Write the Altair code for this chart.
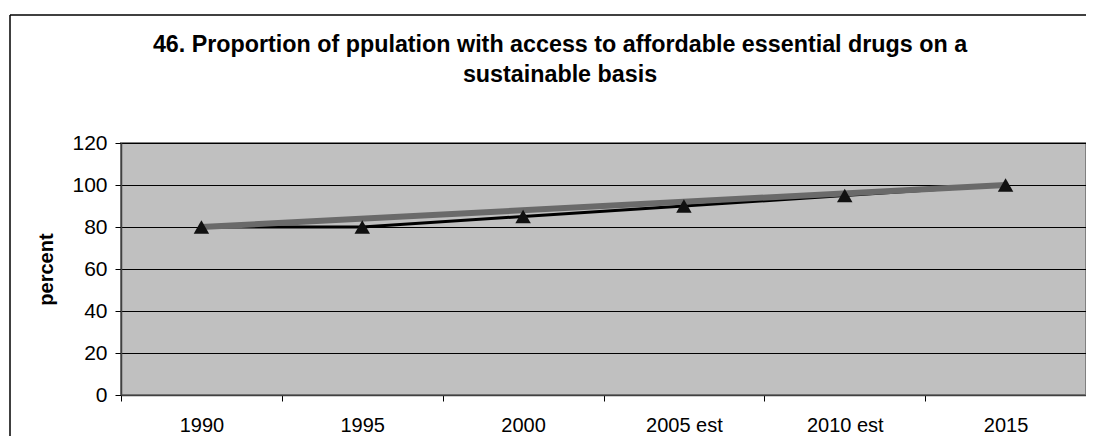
import altair as alt
import pandas as pd

years = ["1990", "1995", "2000", "2005 est", "2010 est", "2015"]
actual = [80, 80, 85, 90, 95, 100]
target_years = ["1990", "2015"]
target = [80, 100]
y_ticks = [0, 20, 40, 60, 80, 100, 120]
title_lines = ["46. Proportion of ppulation with access to affordable essential drugs on a",
               "sustainable basis"]

df = pd.DataFrame({"year": years, "value": actual})
dt = pd.DataFrame({"year": target_years, "value": target})
frame = pd.DataFrame({"k": [0]})

FONT = "Liberation Sans"
W = 965
H = 252

x_enc = alt.X(
    "year:N",
    sort=years,
    bandPosition=0.5,
    scale=alt.Scale(type="band", domain=years, paddingInner=0, paddingOuter=0),
    axis=alt.Axis(
        title=None, tickBand="extent", labelAngle=0, labelFontSize=20,
        labelColor="black", labelFont=FONT, tickSize=6, tickColor="black",
        labelPadding=14, domainColor="#404040", domainWidth=1.5, grid=False,
    ),
)
y_enc = alt.Y(
    "value:Q",
    scale=alt.Scale(domain=[0, 120], nice=False, zero=True),
    axis=alt.Axis(
        values=y_ticks, title="percent", titleFont=FONT, titleFontSize=20,
        titleFontWeight="bold", titleColor="black", titleAngle=-90,
        titleX=-75, titleY=H / 2, titleAlign="center", titleBaseline="middle",
        labelFontSize=21, labelFont=FONT, labelColor="black", labelPadding=8,
        tickSize=6, tickColor="black", domainColor="#404040", domainWidth=1.5,
        grid=True, gridColor="black", gridWidth=1, gridOpacity=1,
    ),
)

black_line = alt.Chart(df).mark_line(color="#000000", strokeWidth=3).encode(x=x_enc, y=y_enc)
gray_line = alt.Chart(dt).mark_line(color="#6a6a6a", strokeWidth=6).encode(x=x_enc, y=y_enc)
points = alt.Chart(df).mark_point(
    shape="triangle-up", filled=True, color="#111111", size=240, opacity=1
).encode(x=x_enc, y=y_enc)

border_top = alt.Chart(frame).mark_rule(color="black", strokeWidth=1.5).encode(
    x=alt.value(-111), x2=alt.value(1200), y=alt.value(-128)
)
border_left = alt.Chart(frame).mark_rule(color="black", strokeWidth=1.5).encode(
    x=alt.value(-111), y=alt.value(-128), y2=alt.value(600)
)

title1 = alt.Chart(frame).mark_text(
    font=FONT, fontSize=23.3, fontWeight="bold", color="black",
    align="center", baseline="alphabetic",
).encode(x=alt.value(439), y=alt.value(-91), text=alt.value(title_lines[0]))
title2 = alt.Chart(frame).mark_text(
    font=FONT, fontSize=23.3, fontWeight="bold", color="black",
    align="center", baseline="alphabetic",
).encode(x=alt.value(439), y=alt.value(-61), text=alt.value(title_lines[1]))

chart = alt.layer(
    black_line, gray_line, points, border_top, border_left, title1, title2
).properties(
    width=W,
    height=H,
    autosize=alt.AutoSizeParams(type="none"),
    padding={"left": 113, "top": 135, "right": 0, "bottom": 41},
    background="white",
).configure_view(
    fill="#c0c0c0", stroke="#808080", strokeWidth=2
)

chart.save("out.html", embed_options={"renderer": "svg", "actions": False})
